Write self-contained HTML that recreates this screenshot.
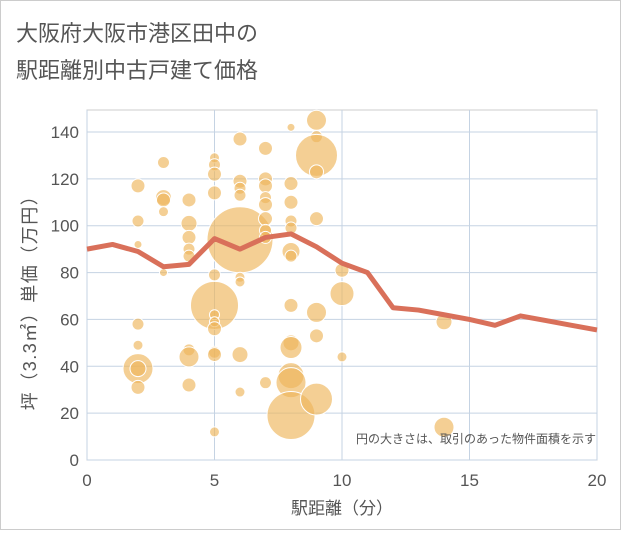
<!DOCTYPE html>
<html><head><meta charset="utf-8"><style>
body{margin:0;background:#fff;}
svg text{font-family:"Liberation Sans","Noto Sans CJK JP",sans-serif;}
</style></head><body>
<svg width="621" height="530" xmlns="http://www.w3.org/2000/svg">
<rect x="0.5" y="0.5" width="620" height="529" fill="#fff" stroke="#ccc"/>
<text x="16" y="41" font-size="22" fill="#555">大阪府大阪市港区田中の</text>
<text x="16" y="78" font-size="22" fill="#555">駅距離別中古戸建て価格</text>
<g id="grid"></g>
<g id="bubbles"></g>
<path id="line" fill="none" stroke="#d9705a" stroke-width="5" stroke-linejoin="round"/>
<g id="axes"></g>
<text x="596" y="443" font-size="12" fill="#555" text-anchor="end">円の大きさは、取引のあった物件面積を示す</text>
<text x="342" y="514" font-size="17" fill="#555" text-anchor="middle">駅距離（分）</text>
<text transform="translate(36,298) rotate(-90)" font-size="18" letter-spacing="1.5" fill="#555" text-anchor="middle">坪（3.3㎡）単価（万円）</text>
</svg>
<script>
const xTicks=[0,5,10,15,20];
const yTicks=[0,20,40,60,80,100,120,140];
const lineX=[0,1,2,3,4,5,6,7,8,9,10,11,12,13,14,15,16,17,18,19,20];
const lineY=[90,92,89,82.5,83.5,94.5,90,95,96.5,91,84,80,65,64,62,60,57.5,61.5,59.5,57.5,55.5];
const bubX=[2,2,2,2,2,2,2,2,3,3,3,3,3,4,4,4,4,4,4,4,4,5,5,5,5,5,5,5,5,5,5,5,5,6,6,6,6,6,6,6,6,6,7,7,7,7,7,7,7,7,7,8,8,8,8,8,8,8,8,8,8,8,8,8,9,9,9,9,9,9,9,9,10,10,10,14,14];
const bubY=[117,102,92,58,49,39,39,31,127,112,111,106,80,111,101,95,90,87,47,44,32,129,126,122,114,79,66,62,59,56,46,45,12,137,119,116,113,94,78,76,45,29,133,120,117,112,109,103,98,95,33,142,118,110,102,99,89,87,66,50,48,36,33,19,145,138,130,123,103,63,53,26,81,71,44,59,14];
const bubR=[7,6,4,6,5,15,8,7,6,8,7,5,4,7,8,7,6,6,6,10,7,5,6,7,7,6,24,5,5,7,6,7,5,7,7,6,6,33,5,5,8,5,7,7,7,6,7,7,6,6,6,4,7,7,6,6,9,6,7,8,11,13,15,24,10,6,21,7,7,10,7,16,7,12,5,8,10];
const X0=87,X1=597,Y0=460,Y1=132;
const sx=v=>X0+(v-0)/(20-0)*(X1-X0);
const sy=v=>Y0-(v/140)*(Y0-Y1);
const NS="http://www.w3.org/2000/svg";
function mk(t,a,p){const e=document.createElementNS(NS,t);for(const k in a)e.setAttribute(k,a[k]);p.appendChild(e);return e;}
const grid=document.getElementById('grid'),axes=document.getElementById('axes');
mk('rect',{x:X0,y:110,width:X1-X0,height:Y0-110,fill:'none',stroke:'#ccc'},grid);
yTicks.forEach(v=>{const l=mk('line',{x1:X0,x2:X1,y1:sy(v),y2:sy(v),stroke:'#c5d3e3','stroke-width':1},grid);


const t=mk('text',{x:X0-8,y:sy(v)+6,'font-size':17,fill:'#555','text-anchor':'end'},axes);t.textContent=v;

});
xTicks.forEach(v=>{const l=mk('line',{x1:sx(v),x2:sx(v),y1:110,y2:Y0,stroke:'#c5d3e3','stroke-width':1},grid);


const t=mk('text',{x:sx(v),y:486,'font-size':17,fill:'#555','text-anchor':'middle'},axes);t.textContent=v;

});
const bg=document.getElementById('bubbles');
bubX.forEach((v,i)=>{const c=mk('circle',{cx:sx(v),cy:sy(bubY[i]),r:bubR[i],fill:'#eeb55a','fill-opacity':0.65,stroke:'#fff','stroke-width':1},bg);

});
document.getElementById('line').setAttribute('d',lineX.map((v,i)=>(i?'L':'M')+sx(v)+','+sy(lineY[i])).join(''));
</script>
</body></html>
